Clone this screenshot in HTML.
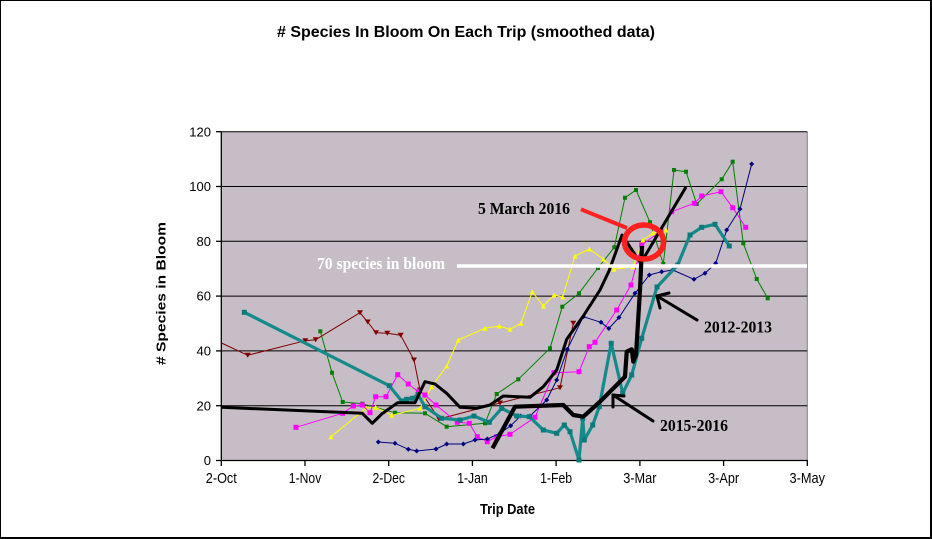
<!DOCTYPE html>
<html><head><meta charset="utf-8"><style>
html,body{margin:0;padding:0;background:#fff;}
svg{display:block;}
text{font-family:"Liberation Sans",Arial,sans-serif;}
.ser{font-family:"Liberation Serif","Times New Roman",serif;font-weight:bold;}
</style></head><body>
<svg width="932" height="539" viewBox="0 0 932 539" xmlns="http://www.w3.org/2000/svg">
<defs>
<marker id="mBr" markerWidth="6" markerHeight="6" refX="3" refY="3" markerUnits="userSpaceOnUse"><path d="M0,0.5 L6,0.5 L3,5.5z" fill="#800000"/></marker>
<marker id="mNv" markerWidth="6" markerHeight="6" refX="3" refY="3" markerUnits="userSpaceOnUse"><path d="M3,0.5 L5.5,3 L3,5.5 L0.5,3z" fill="#000080"/></marker>
<marker id="mMg" markerWidth="6" markerHeight="6" refX="3" refY="3" markerUnits="userSpaceOnUse"><rect x="0.5" y="0.5" width="5" height="5" fill="#ff00ff"/></marker>
<marker id="mYe" markerWidth="6" markerHeight="6" refX="3" refY="3" markerUnits="userSpaceOnUse"><path d="M3,0.5 L5.5,5.5 L0.5,5.5z" fill="#ffff00"/></marker>
<marker id="mGr" markerWidth="6" markerHeight="6" refX="3" refY="3" markerUnits="userSpaceOnUse"><rect x="1" y="1" width="4" height="4" fill="#008000"/></marker>
<marker id="mTl" markerWidth="7" markerHeight="7" refX="3.5" refY="3.5" markerUnits="userSpaceOnUse"><rect x="1" y="1" width="5" height="5" fill="#0b7a7a"/></marker>
</defs>

<!-- outer frame -->
<line x1="0" y1="0.5" x2="932" y2="0.5" stroke="#000" stroke-width="1"/>
<line x1="0.5" y1="0" x2="0.5" y2="539" stroke="#000" stroke-width="1"/>
<line x1="931" y1="0" x2="931" y2="539" stroke="#000" stroke-width="2"/>
<line x1="0" y1="538" x2="932" y2="538" stroke="#000" stroke-width="2"/>

<!-- title -->
<text x="277" y="37" font-size="16" font-weight="bold" textLength="378" lengthAdjust="spacingAndGlyphs">&#35; Species In Bloom On Each Trip (smoothed data)</text>

<!-- plot area -->
<rect x="221.3" y="131.7" width="586" height="328.8" fill="#c6bdc6"/>
<line x1="807.3" y1="131.7" x2="807.3" y2="460.5" stroke="#808080" stroke-width="1"/>
<g stroke="#000" stroke-width="1">
<line x1="221" y1="131.7" x2="807.3" y2="131.7"/>
<line x1="221" y1="186.5" x2="807.3" y2="186.5"/>
<line x1="221" y1="241.3" x2="807.3" y2="241.3"/>
<line x1="221" y1="296.1" x2="807.3" y2="296.1"/>
<line x1="221" y1="350.9" x2="807.3" y2="350.9"/>
<line x1="221" y1="405.7" x2="807.3" y2="405.7"/>
</g>
<!-- axes -->
<g stroke="#000" stroke-width="1.3">
<line x1="221.3" y1="131.7" x2="221.3" y2="461"/>
<line x1="221" y1="460.5" x2="807.8" y2="460.5"/>
<line x1="216" y1="131.7" x2="221.3" y2="131.7"/>
<line x1="216" y1="186.5" x2="221.3" y2="186.5"/>
<line x1="216" y1="241.3" x2="221.3" y2="241.3"/>
<line x1="216" y1="296.1" x2="221.3" y2="296.1"/>
<line x1="216" y1="350.9" x2="221.3" y2="350.9"/>
<line x1="216" y1="405.7" x2="221.3" y2="405.7"/>
<line x1="216" y1="460.5" x2="221.3" y2="460.5"/>
<line x1="221.3" y1="460.5" x2="221.3" y2="466"/>
<line x1="305.0" y1="460.5" x2="305.0" y2="466"/>
<line x1="388.7" y1="460.5" x2="388.7" y2="466"/>
<line x1="472.4" y1="460.5" x2="472.4" y2="466"/>
<line x1="556.1" y1="460.5" x2="556.1" y2="466"/>
<line x1="639.9" y1="460.5" x2="639.9" y2="466"/>
<line x1="723.6" y1="460.5" x2="723.6" y2="466"/>
<line x1="807.3" y1="460.5" x2="807.3" y2="466"/>
</g>

<!-- y tick labels -->
<g font-size="13" text-anchor="end" fill="#000">
<text x="211" y="136.3">120</text>
<text x="211" y="191.1">100</text>
<text x="211" y="245.9">80</text>
<text x="211" y="300.7">60</text>
<text x="211" y="355.5">40</text>
<text x="211" y="410.3">20</text>
<text x="211" y="465.1">0</text>
</g>
<!-- x tick labels -->
<g font-size="15" fill="#000">
<text x="205.8" y="483" textLength="31" lengthAdjust="spacingAndGlyphs">2-Oct</text>
<text x="288.8" y="483" textLength="32.5" lengthAdjust="spacingAndGlyphs">1-Nov</text>
<text x="372.5" y="483" textLength="32.5" lengthAdjust="spacingAndGlyphs">2-Dec</text>
<text x="457.2" y="483" textLength="30.5" lengthAdjust="spacingAndGlyphs">1-Jan</text>
<text x="540.1" y="483" textLength="32" lengthAdjust="spacingAndGlyphs">1-Feb</text>
<text x="623.2" y="483" textLength="33.3" lengthAdjust="spacingAndGlyphs">3-Mar</text>
<text x="708.1" y="483" textLength="31" lengthAdjust="spacingAndGlyphs">3-Apr</text>
<text x="789.5" y="483" textLength="35.5" lengthAdjust="spacingAndGlyphs">3-May</text>
</g>

<!-- axis titles -->
<text x="480" y="514" font-size="15" font-weight="bold" textLength="55" lengthAdjust="spacingAndGlyphs">Trip Date</text>
<text transform="translate(165.5,365) rotate(-90)" x="0" y="0" font-size="12.5" font-weight="bold" textLength="143" lengthAdjust="spacingAndGlyphs">&#35; Species in Bloom</text>

<!-- series -->
<g fill="none" stroke-linejoin="round">
<polyline stroke="#800000" stroke-width="1" marker-mid="url(#mBr)" marker-end="url(#mBr)" points="221.5,343 247.7,355.3 305.3,340.7 315.7,339.7 360,312.7 367.7,322 376,332.7 387.3,333.3 400.7,335.3 414,360 420,390 439,419 500,403 560,387.7 573.3,323.3"/>
<polyline stroke="#008000" stroke-width="1" marker-start="url(#mGr)" marker-mid="url(#mGr)" marker-end="url(#mGr)" points="320.3,331.3 332,372.7 342.7,402 362.3,403.7 395,412.7 425,413.3 446.7,426.7 485,423.3 496.7,394 518.3,379.3 550,348.3 562.3,306.7 579,293.3 598,268 614.3,247.3 625,197.7 636,190 650,222.3 663.3,264 674,170 686,171.7 696.7,204 721.7,179.3 732.7,161.7 743.3,243.3 756.7,279 767.7,298.3"/>
<polyline stroke="#ffff00" stroke-width="1" marker-start="url(#mYe)" marker-mid="url(#mYe)" marker-end="url(#mYe)" points="331,436.7 366.3,408 375.7,407.3 391.7,415.3 420,408.3 431.7,386.7 446.7,366 458.3,340 485,328.3 499.3,326 510,329.3 521,323.3 532.3,291.7 543.3,306 554,295 562.7,297 575,256 589.5,249 603.3,259 614,269.3 633,266.7 643,240 653,233 666,230"/>
<polyline stroke="#ff00ff" stroke-width="1" marker-start="url(#mMg)" marker-mid="url(#mMg)" marker-end="url(#mMg)" points="296,427.3 342.7,413.3 353.3,406 362.3,405 370,412.7 375.7,396.7 386,396.7 397.7,374.7 408.3,384 418.3,391.7 425,395 436,405 457.3,422.3 469.3,423.3 477.3,436.7 487.3,441.7 496.7,436.7 510,434.3 535,417.3 554,372.7 579,371.7 589.3,346.7 595,342.3 616.7,310 631,285 641.7,245 661,231 671.7,211.7 694.3,203.3 701.7,196 721,191.7 732.7,207.7 745.7,227.3"/>
<polyline stroke="#000080" stroke-width="1" marker-start="url(#mNv)" marker-mid="url(#mNv)" marker-end="url(#mNv)" points="378.3,442 395,443.3 408.3,449.3 416.7,451 436,449 446.7,444 463.3,444 475,440 487.3,439 500,433.3 510.7,425.7 520.7,416 530,416 546.7,400 556.7,380 567.3,349.3 583.3,316.7 601,322.3 608.8,328.5 619,317.5 635,293.3 649.3,275 661.7,271.7 672.7,270 694,279.3 705,273.3 715.7,263.3 726.7,230 740,209 751.7,164"/>
<polyline stroke="#158a8a" stroke-width="3.2" marker-start="url(#mTl)" marker-mid="url(#mTl)" marker-end="url(#mTl)" points="244.3,312.3 389.3,385.7 401.7,401 406.7,399.3 412.3,398.3 418,394.5 425,406.7 441.7,418.3 460,420 474,416 489.3,422.3 501.7,408.3 516.7,416 529.3,416.7 543.3,430 556.7,433.3 564.3,425 570,431.7 579,460 582.7,418.3 584.3,440 592.7,425 599.3,406.7 611.2,343.3 622.7,393.3 631.7,375 641.7,338.3 657,287 677.7,265 690,235 701.7,227.3 715,224.3 729.3,246"/>
<polyline stroke="#000" stroke-width="3" points="221.7,407.3 362.3,413.3 372.3,423.3 381.7,414 397.7,402.7 415,402.7 425,381.7 435,384 446.7,393.3 460,407.3 476.7,408.3 490,405 503.3,396 530,397.3 543.3,386.7 556.7,370 566.7,339.3 583.3,316 600,290 609,271 622,235 640,262 645,256 686,187"/>
</g>

<!-- 70 species line -->
<line x1="457" y1="266" x2="807" y2="266" stroke="#fff" stroke-width="3.5"/>
<text class="ser" x="317" y="269" font-size="16.5" fill="#fff" textLength="128" lengthAdjust="spacingAndGlyphs">70 species in bloom</text>

<!-- thick black 2015-2016 -->
<polyline fill="none" stroke="#000" stroke-width="4.2" stroke-linejoin="round" points="492.5,448.3 515,406.7 563.3,405 573.3,415 583.3,416.7 600,401.7 625,376.7 626.7,351.7 631.7,349.3 633.3,361.7 636,355 640,290 642,246"/>

<!-- red annotation -->
<line x1="581" y1="209.3" x2="627" y2="228" stroke="#ff2020" stroke-width="4"/>
<ellipse cx="644" cy="242" rx="19.5" ry="17" fill="none" stroke="#ff2020" stroke-width="5.5"/>
<text class="ser" x="478" y="214" font-size="17" fill="#000" textLength="92" lengthAdjust="spacingAndGlyphs">5 March 2016</text>

<!-- black arrows -->
<g stroke="#000" stroke-width="3" stroke-linecap="round">
<line x1="697" y1="320" x2="657" y2="296"/>
<line x1="657" y1="296" x2="669" y2="293"/>
<line x1="657" y1="296" x2="660" y2="308"/>
<line x1="653" y1="421" x2="613" y2="395"/>
<line x1="613" y1="395" x2="624" y2="396"/>
<line x1="613" y1="395" x2="613" y2="407"/>
</g>
<text class="ser" x="704" y="332.7" font-size="16.5" fill="#000" textLength="68" lengthAdjust="spacingAndGlyphs">2012-2013</text>
<text class="ser" x="660" y="431" font-size="16.5" fill="#000" textLength="68" lengthAdjust="spacingAndGlyphs">2015-2016</text>
</svg>
</body></html>
